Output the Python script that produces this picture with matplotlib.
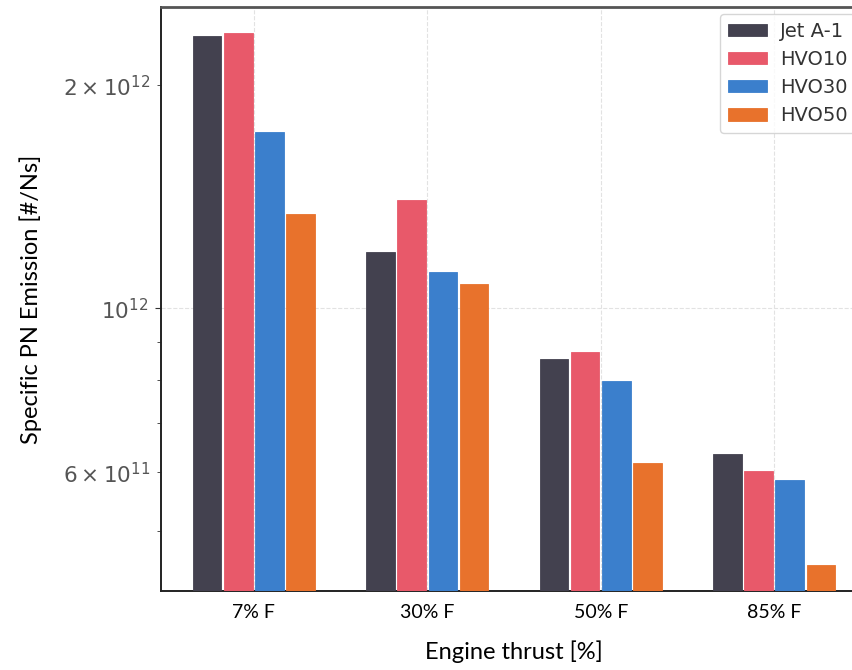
import numpy as np
import matplotlib
matplotlib.use('Agg')
import matplotlib.pyplot as plt

# dados
categorias = ['7% F', '30% F', '50% F', '85% F']
combustiveis = ['Jet A-1', 'HVO10', 'HVO30', 'HVO50']
jet_a1 = [2.33e12, 1.19e12, 8.53e11, 6.35e11]
hvo10 = [2.35e12, 1.40e12, 8.72e11, 6.03e11]
hvo30 = [1.73e12, 1.12e12, 7.97e11, 5.86e11]
hvo50 = [1.34e12, 1.077e12, 6.18e11, 4.50e11]

cores = ['#43414f', '#e8596a', '#3b7fcc', '#e8722c']

fig = plt.figure(figsize=(8.53, 6.70), dpi=100)
ax = fig.add_axes([161/853, 79/670, 706/853, 584/670])

x = np.arange(len(categorias))
largura = 0.165
desloc = [-0.27, -0.09, 0.09, 0.27]
series = [jet_a1, hvo10, hvo30, hvo50]

for i, (nome, vals) in enumerate(zip(combustiveis, series)):
    ax.bar(x + desloc[i], vals, largura, color=cores[i], label=nome,
           edgecolor=cores[i], linewidth=0.6, zorder=3)

ax.set_yscale('log')
ax.set_ylim(4.15e11, 2.55e12)
ax.set_xlim(-0.536, 3.536)

ax.set_xticks(x)
ax.set_xticklabels(categorias, family='Lato', fontsize=14)
ax.tick_params(axis='x', length=0, pad=9)
ax.tick_params(axis='y', which='both', labelsize=15.5, labelcolor='#555555',
               direction='out', color='#333333', pad=5)
ax.tick_params(axis='y', which='major', length=4)
ax.tick_params(axis='y', which='minor', length=3)

ax.grid(True, which='major', linestyle='--', color='#e2e2e2', linewidth=0.8, zorder=0)

for lado in ['left', 'bottom']:
    ax.spines[lado].set_color('#222222')
    ax.spines[lado].set_linewidth(1.4)
ax.spines['top'].set_color('#555555')
ax.spines['top'].set_linewidth(2)

ax.set_xlabel('Engine thrust [%]', family='Lato', fontsize=17, labelpad=14)
ax.set_ylabel('Specific PN Emission [#/Ns]', family='Lato', fontsize=17)
ax.yaxis.set_label_coords(-0.168, 0.5)

# legenda presa no canto esquerdo, o lado direito sai da figura como no original
leg = ax.legend(loc='upper left', bbox_to_anchor=(559/706, 1 - 7/584), borderaxespad=0,
                fontsize=14, frameon=True, fancybox=True, edgecolor='#cccccc',
                handlelength=2.0, handleheight=0.6, handletextpad=0.67,
                borderpad=0.4, labelspacing=0.47)
for t in leg.get_texts():
    t.set_color('#333333')

fig.savefig('out.png', dpi=100)
